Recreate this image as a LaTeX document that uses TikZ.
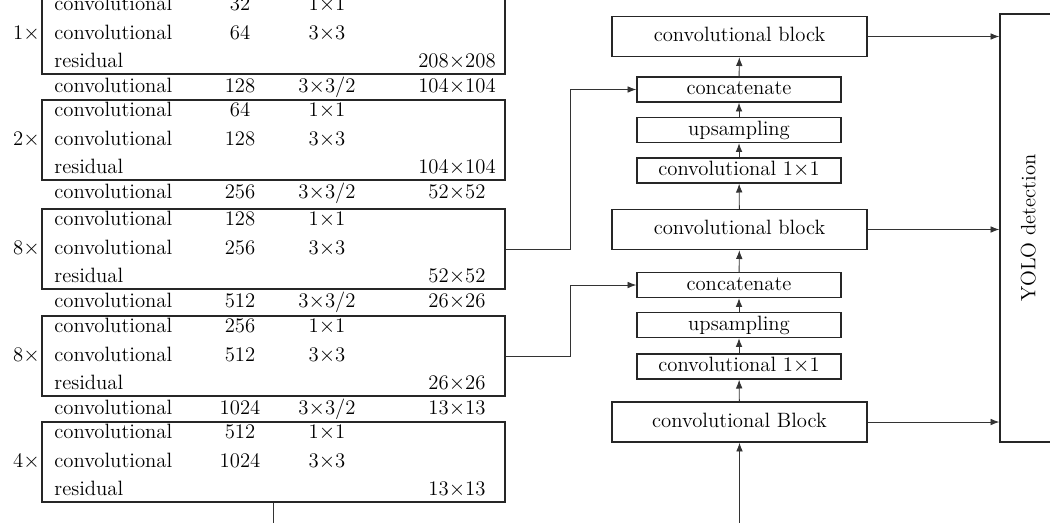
\documentclass[tikz,border=0pt]{standalone}
\usepackage{tikz}
\usetikzlibrary{positioning, arrows.meta}
\tikzstyle{cellText}=[font=\fontsize{11.8}{13}\selectfont, inner sep=0pt, text height=1.6ex, text depth=0.2ex]
\tikzstyle{nameCell}=[cellText, anchor=west]
\tikzstyle{multLabel}=[cellText, anchor=east]
\tikzstyle{resBox}=[draw=black!85, line width=0.8pt, minimum width=9.26cm, minimum height=1.6cm, inner sep=0pt]
\tikzstyle{wideBlock}=[draw=black!85, line width=0.8pt, cellText, minimum width=5.1cm, minimum height=0.8cm]
\tikzstyle{narrowBlock}=[draw=black!85, line width=0.8pt, cellText, minimum width=4.08cm, minimum height=0.5cm]
\tikzstyle{yoloBox}=[draw=black!85, line width=0.8pt, minimum width=1.2cm, minimum height=8.56cm]
\tikzstyle{flowArrow}=[-{Latex[length=5pt,width=3.8pt]}, line width=0.5pt, black!80]

\begin{document}
\begin{tikzpicture}[x=0.02cm, y=-0.02cm]
    \useasboundingbox (0,0) rectangle (1050,522);
    \clip (0,0) rectangle (1050,522);

    \node[resBox] (res1) at (273.5,34) {};
    \node[resBox] (res2) at (273.5,140) {};
    \node[resBox] (res3) at (273.5,249) {};
    \node[resBox] (res4) at (273.5,356) {};
    \node[resBox] (res5) at (273.5,462) {};

    \node[multLabel] (m1) at (40,34) {1$\times$};
    \node[multLabel] (m2) at (40,140) {2$\times$};
    \node[multLabel] (m3) at (40,249) {8$\times$};
    \node[multLabel] (m4) at (40,356) {8$\times$};
    \node[multLabel] (m5) at (40,462) {4$\times$};

    \node[nameCell] (b1r1n) at (54,5) {convolutional};
    \node[cellText] (b1r1c) at (240,5) {32};
    \node[cellText] (b1r1k) at (327,5) {1$\times$1};
    \node[nameCell] (b1r2n) at (54,34) {convolutional};
    \node[cellText] (b1r2c) at (240,34) {64};
    \node[cellText] (b1r2k) at (327,34) {3$\times$3};
    \node[nameCell] (b1r3n) at (54,62) {residual};
    \node[cellText] (b1r3o) at (457,62) {208$\times$208};

    \node[nameCell] (d1n) at (54,87) {convolutional};
    \node[cellText] (d1c) at (240,87) {128};
    \node[cellText] (d1k) at (327,87) {3$\times$3/2};
    \node[cellText] (d1o) at (457,87) {104$\times$104};

    \node[nameCell] (b2r1n) at (54,111) {convolutional};
    \node[cellText] (b2r1c) at (240,111) {64};
    \node[cellText] (b2r1k) at (327,111) {1$\times$1};
    \node[nameCell] (b2r2n) at (54,140) {convolutional};
    \node[cellText] (b2r2c) at (240,140) {128};
    \node[cellText] (b2r2k) at (327,140) {3$\times$3};
    \node[nameCell] (b2r3n) at (54,168) {residual};
    \node[cellText] (b2r3o) at (457,168) {104$\times$104};

    \node[nameCell] (d2n) at (54,193) {convolutional};
    \node[cellText] (d2c) at (240,193) {256};
    \node[cellText] (d2k) at (327,193) {3$\times$3/2};
    \node[cellText] (d2o) at (457,193) {52$\times$52};

    \node[nameCell] (b3r1n) at (54,220) {convolutional};
    \node[cellText] (b3r1c) at (240,220) {128};
    \node[cellText] (b3r1k) at (327,220) {1$\times$1};
    \node[nameCell] (b3r2n) at (54,249) {convolutional};
    \node[cellText] (b3r2c) at (240,249) {256};
    \node[cellText] (b3r2k) at (327,249) {3$\times$3};
    \node[nameCell] (b3r3n) at (54,277) {residual};
    \node[cellText] (b3r3o) at (457,277) {52$\times$52};

    \node[nameCell] (d3n) at (54,302) {convolutional};
    \node[cellText] (d3c) at (240,302) {512};
    \node[cellText] (d3k) at (327,302) {3$\times$3/2};
    \node[cellText] (d3o) at (457,302) {26$\times$26};

    \node[nameCell] (b4r1n) at (54,327) {convolutional};
    \node[cellText] (b4r1c) at (240,327) {256};
    \node[cellText] (b4r1k) at (327,327) {1$\times$1};
    \node[nameCell] (b4r2n) at (54,356) {convolutional};
    \node[cellText] (b4r2c) at (240,356) {512};
    \node[cellText] (b4r2k) at (327,356) {3$\times$3};
    \node[nameCell] (b4r3n) at (54,384) {residual};
    \node[cellText] (b4r3o) at (457,384) {26$\times$26};

    \node[nameCell] (d4n) at (54,409) {convolutional};
    \node[cellText] (d4c) at (240,409) {1024};
    \node[cellText] (d4k) at (327,409) {3$\times$3/2};
    \node[cellText] (d4o) at (457,409) {13$\times$13};

    \node[nameCell] (b5r1n) at (54,433) {convolutional};
    \node[cellText] (b5r1c) at (240,433) {512};
    \node[cellText] (b5r1k) at (327,433) {1$\times$1};
    \node[nameCell] (b5r2n) at (54,462) {convolutional};
    \node[cellText] (b5r2c) at (240,462) {1024};
    \node[cellText] (b5r2k) at (327,462) {3$\times$3};
    \node[nameCell] (b5r3n) at (54,490) {residual};
    \node[cellText] (b5r3o) at (457,490) {13$\times$13};

    \node[wideBlock] (blk1) at (739.5,36.5) {convolutional block};
    \node[narrowBlock] (cat1) at (739,89.5) {concatenate};
    \node[narrowBlock] (up1) at (739,130) {upsampling};
    \node[narrowBlock] (cv1) at (739,170.5) {convolutional 1$\times$1};
    \node[wideBlock] (blk2) at (739.5,229.5) {convolutional block};
    \node[narrowBlock] (cat2) at (739,285) {concatenate};
    \node[narrowBlock] (up2) at (739,325) {upsampling};
    \node[narrowBlock] (cv2) at (739,366.5) {convolutional 1$\times$1};
    \node[wideBlock] (blk3) at (739.5,422) {convolutional Block};

    \node[yoloBox] (yolo) at (1030,228) {};
    \node[cellText, rotate=90] (yoloText) at (yolo.center) {YOLO detection};

    \draw[flowArrow] (blk3) -- (cv2);
    \draw[flowArrow] (cv2) -- (up2);
    \draw[flowArrow] (up2) -- (cat2);
    \draw[flowArrow] (cat2) -- (blk2);
    \draw[flowArrow] (blk2) -- (cv1);
    \draw[flowArrow] (cv1) -- (up1);
    \draw[flowArrow] (up1) -- (cat1);
    \draw[flowArrow] (cat1) -- (blk1);

    \draw[flowArrow] (blk1.east) -- (blk1.east -| yolo.west);
    \draw[flowArrow] (blk2.east) -- (blk2.east -| yolo.west);
    \draw[flowArrow] (blk3.east) -- (blk3.east -| yolo.west);

    \draw[flowArrow] (res3.east) -- ++(65,0) |- (cat1.west);
    \draw[flowArrow] (res4.east) -- ++(65,0) |- (cat2.west);
    \draw[flowArrow] (res5.south) -- ++(0,60) -| (blk3.south);

  \end{tikzpicture}
\end{document}
